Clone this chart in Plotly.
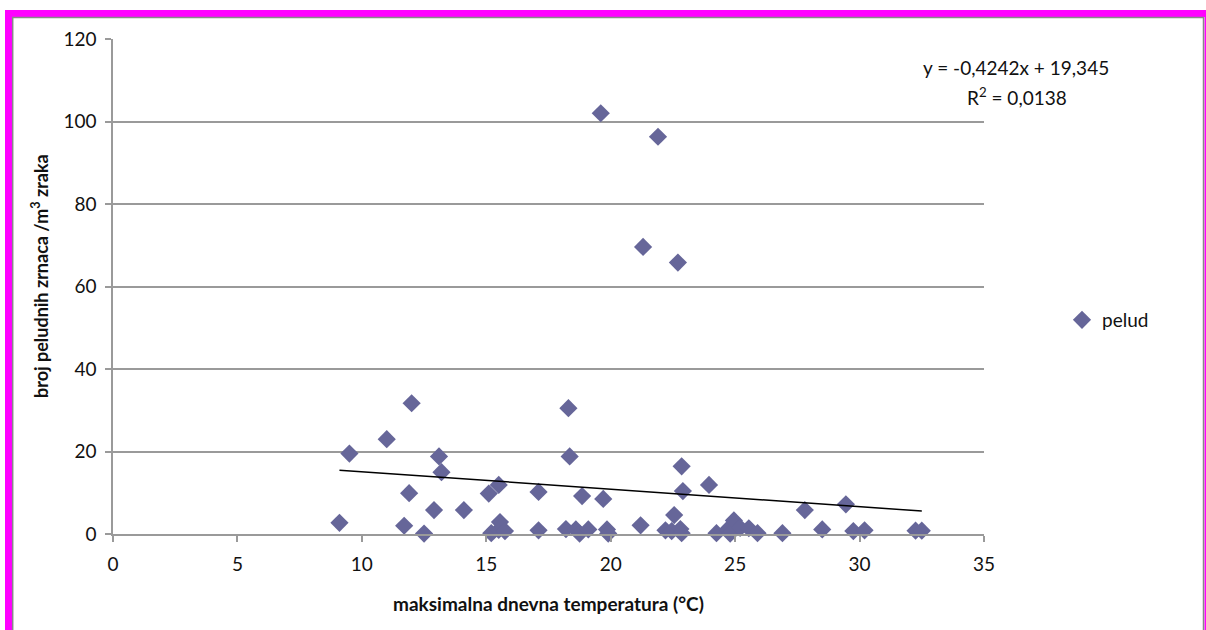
import plotly.graph_objects as go

# ---- data ----
temp_max = [9.1, 9.5, 11.0, 12.0, 11.9, 11.7, 12.5, 13.1, 13.2, 12.9,
            14.1, 15.1, 15.5, 15.2, 15.55, 15.5, 15.75, 17.1, 17.1, 18.3,
            18.35, 18.2, 18.6, 18.75, 18.85, 19.1, 19.7, 19.85, 19.9, 19.6,
            21.9, 21.3, 22.7, 21.2, 22.2, 22.45, 22.8, 22.85, 22.85, 22.9,
            22.55, 23.95, 24.25, 24.7, 24.8, 24.95, 25.2, 25.55, 25.9, 26.9,
            27.8, 28.5, 29.45, 29.75, 30.2, 32.25, 32.5]
pelud = [2.7, 19.5, 23.0, 31.7, 9.9, 2.0, 0.1, 18.8, 15.0, 5.8,
         5.8, 9.8, 11.9, 0.2, 2.9, 1.0, 0.7, 10.2, 0.9, 30.5,
         18.8, 1.2, 1.1, 0.1, 9.2, 1.1, 8.5, 1.1, 0.1, 102.0,
         96.3, 69.6, 65.8, 2.1, 0.9, 0.7, 1.2, 0.2, 16.4, 10.4,
         4.6, 11.9, 0.2, 1.1, 0.1, 3.3, 1.5, 1.4, 0.2, 0.2,
         5.8, 1.1, 7.2, 0.7, 0.9, 0.8, 0.8]
slope = -0.4242
intercept = 19.345
r_squared = "0,0138"
x_ticks = [0, 5, 10, 15, 20, 25, 30, 35]
y_ticks = [0, 20, 40, 60, 80, 100, 120]

W, H = 1206, 630
L, R, T, B = 113, 222, 39, 96
PW, PH = W - L - R, H - T - B


def px(xpix):
    return (xpix - L) / PW


def py(ypix):
    return (H - B - ypix) / PH


FONT = "Lato"
MARKER_COLOR = "#666699"
GRID = "#9a9a9a"

trend_x = [min(temp_max), max(temp_max)]
trend_y = [slope * v + intercept for v in trend_x]

fig = go.Figure()
fig.add_trace(go.Scatter(
    x=temp_max, y=pelud, mode="markers", name="pelud",
    marker=dict(symbol="diamond", size=14, color=MARKER_COLOR,
                line=dict(width=0)),
    cliponaxis=False,
))
fig.add_trace(go.Scatter(
    x=trend_x, y=trend_y, mode="lines", showlegend=False,
    line=dict(color="black", width=1.5), hoverinfo="skip",
))

fig.update_xaxes(
    range=[0, 35], tickvals=x_ticks, showgrid=False, zeroline=False,
    showline=True, linecolor=GRID, linewidth=1.5,
    ticks="outside", ticklen=6, tickcolor=GRID, tickwidth=1.5,
    tickfont=dict(family=FONT, size=19, color="#111"),
    ticklabelstandoff=6,
)
fig.update_yaxes(
    range=[0, 120], tickvals=y_ticks, showgrid=True, gridcolor=GRID,
    gridwidth=1.5, zeroline=False,
    showline=True, linecolor=GRID, linewidth=1.5,
    ticks="outside", ticklen=6, tickcolor=GRID, tickwidth=1.5,
    tickfont=dict(family=FONT, size=19, color="#111"),
    ticklabelstandoff=5,
)

annotations = [
    dict(text="maksimalna dnevna temperatura (°C)", x=0.5, y=py(603),
         xref="paper", yref="paper", showarrow=False,
         font=dict(family=FONT, size=19, color="#111", weight="bold"),
         xanchor="center", yanchor="middle"),
    dict(text="broj peludnih zrnaca /m<sup>3</sup> zraka", x=px(40), y=py(276),
         xref="paper", yref="paper", showarrow=False, textangle=-90,
         font=dict(family=FONT, size=18, color="#111", weight="bold"),
         xanchor="center", yanchor="middle"),
    dict(text="y = -0,4242x + 19,345", x=px(1016), y=py(67),
         xref="paper", yref="paper", showarrow=False,
         font=dict(family=FONT, size=19, color="#111"),
         xanchor="center", yanchor="middle"),
    dict(text="R<sup>2</sup> = " + r_squared, x=px(1017), y=py(97),
         xref="paper", yref="paper", showarrow=False,
         font=dict(family=FONT, size=19, color="#111"),
         xanchor="center", yanchor="middle"),
]

shapes = [
    # magenta frame
    dict(type="rect", xref="paper", yref="paper", x0=px(5), x1=px(W + 5),
         y0=py(17), y1=py(10), fillcolor="#FF00FF", line=dict(width=0),
         layer="above"),
    dict(type="rect", xref="paper", yref="paper", x0=px(5), x1=px(12),
         y0=py(H + 5), y1=py(10), fillcolor="#FF00FF", line=dict(width=0),
         layer="above"),
    dict(type="rect", xref="paper", yref="paper", x0=px(1204.5), x1=px(W + 5),
         y0=py(H + 5), y1=py(10), fillcolor="#FF00FF", line=dict(width=0),
         layer="above"),
    # gray inner chart border
    dict(type="line", xref="paper", yref="paper", x0=px(12), x1=px(1203.5),
         y0=py(17.5), y1=py(17.5), line=dict(color="#888", width=1.5)),
    dict(type="line", xref="paper", yref="paper", x0=px(12.7), x1=px(12.7),
         y0=py(17), y1=py(H + 5), line=dict(color="#888", width=1.5)),
    dict(type="line", xref="paper", yref="paper", x0=px(1203.5), x1=px(1203.5),
         y0=py(17), y1=py(H + 5), line=dict(color="#888", width=1.5)),
]

fig.update_layout(
    width=W, height=H,
    margin=dict(l=L, r=R, t=T, b=B, autoexpand=False),
    paper_bgcolor="white", plot_bgcolor="white",
    font=dict(family=FONT, size=19, color="#111"),
    showlegend=True,
    legend=dict(x=px(1062), y=py(320), xanchor="left", yanchor="middle",
                bgcolor="rgba(0,0,0,0)", font=dict(family=FONT, size=19),
                itemwidth=30),
    annotations=annotations,
    shapes=shapes,
)

fig.write_html(
    "out.html",
    config={"displayModeBar": False},
    post_script="document.body.style.margin='0';document.body.style.overflow='hidden';",
)
